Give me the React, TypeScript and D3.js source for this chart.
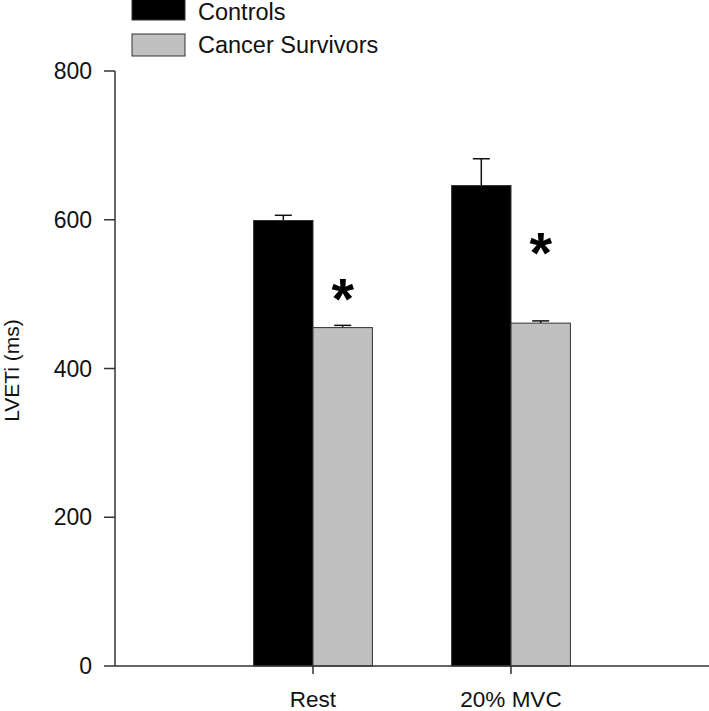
import React from "react";
import * as d3 from "d3";

const categories = ["Rest", "20% MVC"];
const seriesNames = ["Controls", "Cancer Survivors"];
const seriesColors = ["#000000", "#c0c0c0"];
const controls = [599, 646];
const controlsErr = [7, 36];
const survivors = [455, 461];
const survivorsErr = [3, 3];
// height (in ms) where the significance star sits
const starLevels = [511, 573];
const yTicks = [0, 200, 400, 600, 800];

const W = 709;
const H = 711;
const font = "'Liberation Sans', Arial, sans-serif";

export default function App() {
    const x = d3.scaleLinear().domain([0, 3]).range([115, 709]);
    const y = d3.scaleLinear().domain([0, 800]).range([666, 71]);
    const barW = x(0.3) - x(0);
    const axisColor = "#333";

    const series = [
        { name: seriesNames[0], values: controls, err: controlsErr, offset: -barW },
        { name: seriesNames[1], values: survivors, err: survivorsErr, offset: 0 },
    ];

    return (
        <svg
            width={W}
            height={H}
            style={{ position: "absolute", left: 0, top: 0, display: "block", background: "#fff" }}
            fontFamily={font}
        >
            {/* legend */}
            {seriesNames.map((name, i) => (
                <g key={name}>
                    <rect
                        x={132}
                        y={i === 0 ? -4 : 34}
                        width={53}
                        height={i === 0 ? 24 : 22}
                        fill={seriesColors[i]}
                        stroke={axisColor}
                        strokeWidth={1}
                    />
                    <text x={198} y={i === 0 ? 20 : 53} fontSize={23.5} fill="#111">
                        {name}
                    </text>
                </g>
            ))}

            {/* bars */}
            {series.map((s, si) =>
                s.values.map((v, ci) => {
                    const cx = x(ci + 1);
                    const left = cx + s.offset;
                    const mid = left + barW / 2;
                    return (
                        <g key={`${si}-${ci}`}>
                            <line
                                x1={mid}
                                x2={mid}
                                y1={y(v)}
                                y2={y(v + s.err[ci])}
                                stroke="#111"
                                strokeWidth={1.5}
                            />
                            <line
                                x1={mid - 8.5}
                                x2={mid + 8.5}
                                y1={y(v + s.err[ci])}
                                y2={y(v + s.err[ci])}
                                stroke="#111"
                                strokeWidth={1.5}
                            />
                            <rect
                                x={left}
                                y={y(v)}
                                width={barW}
                                height={y(0) - y(v)}
                                fill={seriesColors[si]}
                                stroke={axisColor}
                                strokeWidth={1}
                            />
                        </g>
                    );
                })
            )}

            {/* significance stars */}
            {starLevels.map((lv, ci) => (
                <text
                    key={`star-${ci}`}
                    x={x(ci + 1) + barW / 2}
                    y={y(lv) + 33}
                    fontSize={58}
                    fontWeight="bold"
                    textAnchor="middle"
                    fill="#000"
                >
                    *
                </text>
            ))}

            {/* y axis */}
            <line x1={x(0)} x2={x(0)} y1={y(800)} y2={y(0)} stroke={axisColor} strokeWidth={1.5} />
            {yTicks.map((t) => (
                <g key={t}>
                    <line x1={x(0) - 11} x2={x(0)} y1={y(t)} y2={y(t)} stroke={axisColor} strokeWidth={1.5} />
                    <text
                        x={92}
                        y={y(t) + 8}
                        fontSize={23}
                        textAnchor="end"
                        fill="#111"
                    >
                        {t}
                    </text>
                </g>
            ))}
            <text
                transform={`translate(19, ${y(400) + 2}) rotate(-90)`}
                fontSize={21}
                textAnchor="middle"
                fill="#111"
            >
                LVETi (ms)
            </text>

            {/* x axis */}
            <line x1={x(0)} x2={x(3)} y1={y(0)} y2={y(0)} stroke={axisColor} strokeWidth={1.5} />
            {categories.map((c, ci) => (
                <g key={c}>
                    <line
                        x1={x(ci + 1)}
                        x2={x(ci + 1)}
                        y1={y(0)}
                        y2={y(0) + 8}
                        stroke={axisColor}
                        strokeWidth={1.5}
                    />
                    <text x={x(ci + 1)} y={707} fontSize={22.5} textAnchor="middle" fill="#111">
                        {c}
                    </text>
                </g>
            ))}
        </svg>
    );
}
